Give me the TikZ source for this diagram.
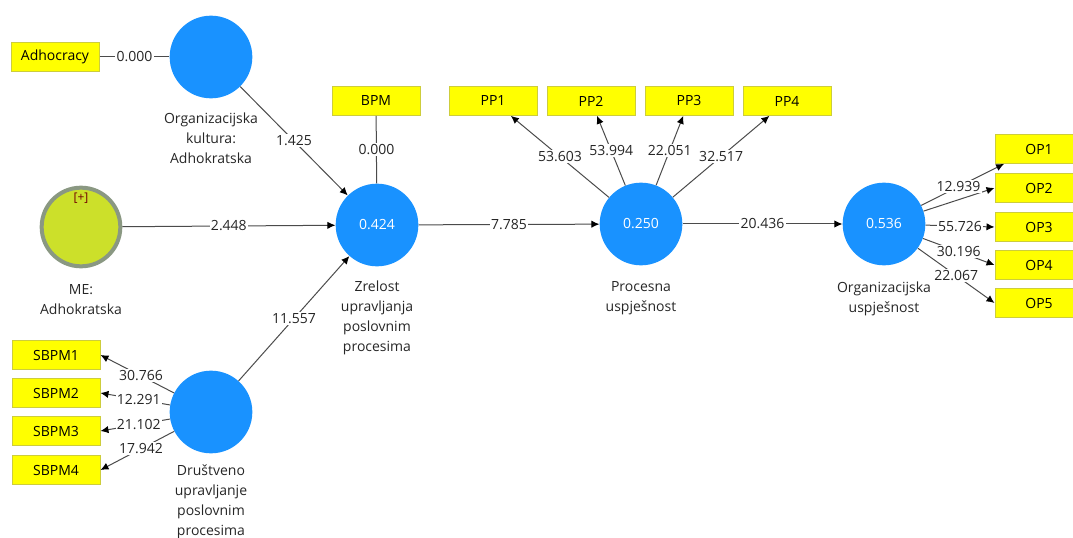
\documentclass[tikz,border=0pt]{standalone}
\usepackage{fontspec}
\setmainfont{Open Sans}
\usetikzlibrary{arrows.meta}

\definecolor{lvblue}{RGB}{25,146,255}
\definecolor{indyellow}{RGB}{255,255,0}
\definecolor{indborder}{RGB}{205,205,60}
\definecolor{mefill}{RGB}{204,224,42}
\definecolor{mering}{RGB}{138,152,130}
\definecolor{edgegray}{RGB}{75,75,75}

\begin{document}
\begin{tikzpicture}[x=0.75pt, y=-0.75pt, font=\fontsize{10.5}{15}\selectfont,
    lv/.style={circle, fill=lvblue, minimum size=62pt, inner sep=0pt, text=white},
    ind/.style={rectangle, fill=indyellow, draw=indborder, line width=0.75pt,
        minimum width=66pt, minimum height=21.5pt, inner sep=0pt},
    lbl/.style={align=center, text=black!85},
    link/.style={draw=edgegray, line width=0.75pt},
    path/.style={link, -{Latex[length=6pt,width=5.5pt,color=black]}},
    coef/.style={fill=white, inner sep=1pt, text=black!85}]
    \useasboundingbox (0,0) rectangle (1073,538);

    % latent variables
    \node[lv] (ok) at (211,57) {};
    \node[lbl] at (211,138) {Organizacijska\\kultura:\\Adhokratska};
    \node[lv, fill=mefill, draw=mering, line width=3pt, minimum size=59pt] (me) at (81,227) {};
    \node[text=red!45!black, font=\fontsize{9}{10}\selectfont] at (81,198) {[+]};
    \node[lbl] at (81,300) {ME:\\Adhokratska};
    \node[lv] (zup) at (377,225) {0.424};
    \node[lbl] at (377,318) {Zrelost\\upravljanja\\poslovnim\\procesima};
    \node[lv] (dup) at (211,412) {};
    \node[lbl] at (211,502) {Društveno\\upravljanje\\poslovnim\\procesima};
    \node[lv] (pu) at (641,224) {0.250};
    \node[lbl] at (641,298) {Procesna\\uspješnost};
    \node[lv] (ou) at (884,224) {0.536};
    \node[lbl] at (884,299) {Organizacijska\\uspješnost};

    % indicators
    \node[ind] (adh) at (55,57) {Adhocracy};
    \node[ind] (bpm) at (376,101) {BPM};
    \foreach \i/\x in {1/493,2/591,3/689,4/787}
        \node[ind] (pp\i) at (\x,101) {PP\i};
    \foreach \i/\y in {1/149,2/188,3/227,4/265,5/303}
        \node[ind] (op\i) at (1039,\y) {OP\i};
    \foreach \i/\y in {1/355,2/393,3/431,4/470}
        \node[ind] (sbpm\i) at (56,\y) {SBPM\i};

    % inner model
    \draw[link] (adh) -- node[coef]{0.000} (ok);
    \draw[link] (bpm) -- node[coef]{0.000} (zup);
    \draw[path] (ok) -- node[coef]{1.425} (zup);
    \draw[path] (me) -- node[coef]{2.448} (zup);
    \draw[path] (dup) -- node[coef]{11.557} (zup);
    \draw[path] (zup) -- node[coef]{7.785} (pu);
    \draw[path] (pu) -- node[coef]{20.436} (ou);

    % outer loadings
    \foreach \i/\v in {1/53.603,2/53.994,3/22.051,4/32.517}
        \draw[path] (pu) -- node[coef]{\v} (pp\i);
    \foreach \i/\v in {1/30.766,2/12.291,3/21.102,4/17.942}
        \draw[path] (dup) -- node[coef, pos=0.45]{\v} (sbpm\i.east);
    \draw[path] (ou) -- (op2.west);
    \draw[path] (ou) -- node[coef, pos=0.45]{12.939} (op1.203);
    \foreach \i/\v in {3/55.726,4/30.196,5/22.067}
        \draw[path] (ou) -- node[coef]{\v} (op\i.west);
\end{tikzpicture}
\end{document}
